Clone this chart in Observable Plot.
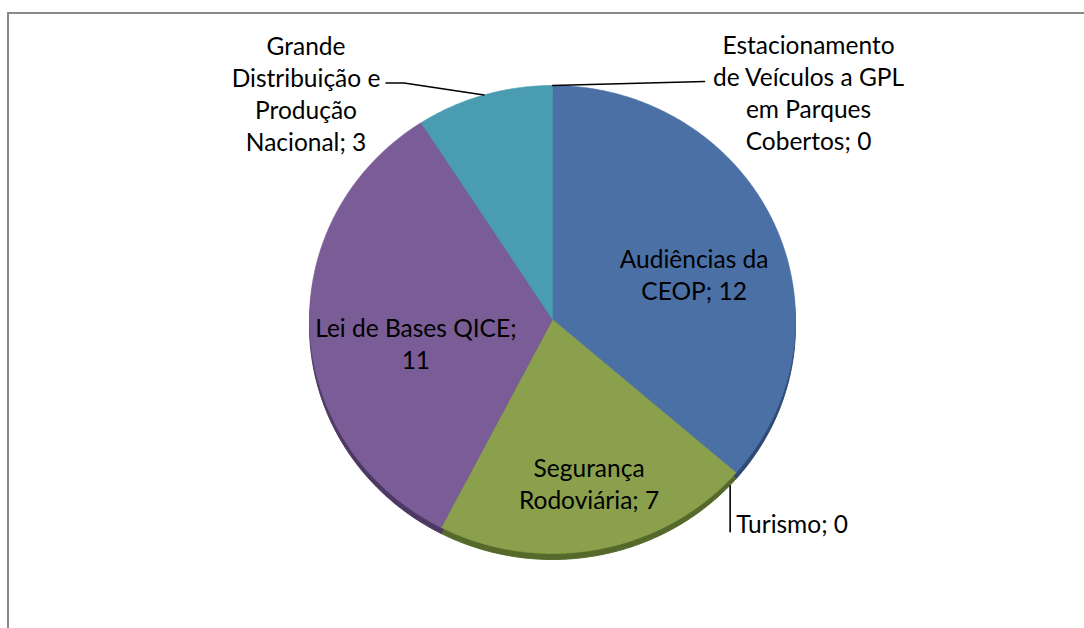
<!DOCTYPE html>
<html><head><meta charset="utf-8">
<script src="https://cdn.jsdelivr.net/npm/d3@7"></script>
<script src="https://cdn.jsdelivr.net/npm/@observablehq/plot@0.6"></script>
<style>
body{margin:0;background:#fff;overflow:hidden;width:1084px;height:628px;position:relative}
#frame{position:absolute;left:7px;top:12px;width:1200px;height:800px;border:2px solid #888;box-sizing:border-box}
#chart{position:absolute;left:0;top:0}
</style></head><body><div id="frame"></div><div id="chart"></div>
<script>
// ---- data ----
const categories = ["Audiências da\nCEOP", "Turismo", "Segurança\nRodoviária", "Lei de Bases QICE", "Grande\nDistribuição e\nProdução\nNacional", "Estacionamento\nde Veículos a GPL\nem Parques\nCobertos"];
const values = [12, 0, 7, 11, 3, 0];
const valueOnNewLine = [false, false, false, true, false, false];
const outside = [false, true, false, false, true, true];
const colors = ["#4a70a6", "#c0504d", "#8ba04c", "#7a5c96", "#4a9cb0", "#f79646"];
const shades = ["#2f4a72", "#7a2f2d", "#55692a", "#4d3863", "#2d6a7a", "#a8602a"];

// ---- geometry ----
const W = 1084, H = 628;
const cx = 552, cy = 319, rx = 243, ry = 234;
const FS = 24.5;
const toData = (px, py) => [(px - cx) / rx, (cy - py) / ry];

const arcs = d3.pie().sort(null).value(d => d)(values);
const slices = arcs.map((a, i) => {
  const pts = [{x: 0, y: 0}];
  const n = Math.max(2, Math.ceil((a.endAngle - a.startAngle) / 0.01));
  for (let k = 0; k <= n; k++) {
    const t = a.startAngle + (a.endAngle - a.startAngle) * k / n;
    pts.push({x: Math.sin(t), y: Math.cos(t)});
  }
  pts.push({x: 0, y: 0});
  return pts;
});

const labelText = categories.map((c, i) => c + ";" + (valueOnNewLine[i] ? "\n" : " ") + values[i]);

const marks = [];
// shadow rim
arcs.forEach((a, i) => { if (values[i] > 0) marks.push(Plot.line(slices[i], {x: "x", y: "y", fill: shades[i], stroke: shades[i], strokeWidth: 1, dy: 6})); });
arcs.forEach((a, i) => { if (values[i] > 0) marks.push(Plot.line(slices[i], {x: "x", y: "y", fill: colors[i], stroke: colors[i], strokeWidth: 0.6})); });

// inside labels
const inside = arcs.map((a, i) => ({a, i})).filter(d => !outside[d.i]).map(({a, i}) => {
  const m = (a.startAngle + a.endAngle) / 2;
  return {x: 0.6 * Math.sin(m), y: 0.64 * Math.cos(m), text: labelText[i]};
});
marks.push(Plot.text(inside, {x: "x", y: "y", text: "text", dx: 9, dy: 16, fontSize: FS, lineHeight: 1.31, fill: "#000", fontFamily: "Lato"}));

// outside labels with leaders
const edge = a => { const m = (a.startAngle + a.endAngle) / 2; return [Math.sin(m), Math.cos(m)]; };
const off = (p, dxp, dyp) => { const [ex, ey] = [cx + p[0] * rx + dxp, cy - p[1] * ry + dyp]; const d = toData(ex, ey); return {x: d[0], y: d[1]}; };
const layout = {
  5: {leader: [[0, 0], [152, -4]], label: [256, 6], anchor: "middle"},
  4: {leader: [[0, 0], [-80, -12], [-98, -12]], label: [-178, -2], anchor: "middle"},
  1: {leader: [[-6, 13], [-6, 59]], label: [0, 50], anchor: "start"}
};
Object.entries(layout).forEach(([k, L]) => {
  const i = +k, p = edge(arcs[i]);
  marks.push(Plot.line(L.leader.map(o => off(p, o[0], o[1])), {x: "x", y: "y", stroke: "#000", strokeWidth: 1.6}));
  const q = off(p, L.label[0], L.label[1]);
  marks.push(Plot.text([{...q, text: labelText[i]}], {x: "x", y: "y", text: "text", textAnchor: L.anchor, fontSize: FS, lineHeight: 1.31, fill: "#000", fontFamily: "Lato"}));
});

const chart = Plot.plot({
  width: W, height: H, margin: 0,
  x: {domain: [-1, 1], range: [cx - rx, cx + rx], axis: null},
  y: {domain: [-1, 1], range: [cy + ry, cy - ry], axis: null},
  style: {background: "transparent", overflow: "visible"},
  marks
});
document.getElementById("chart").appendChild(chart);
</script></body></html>
